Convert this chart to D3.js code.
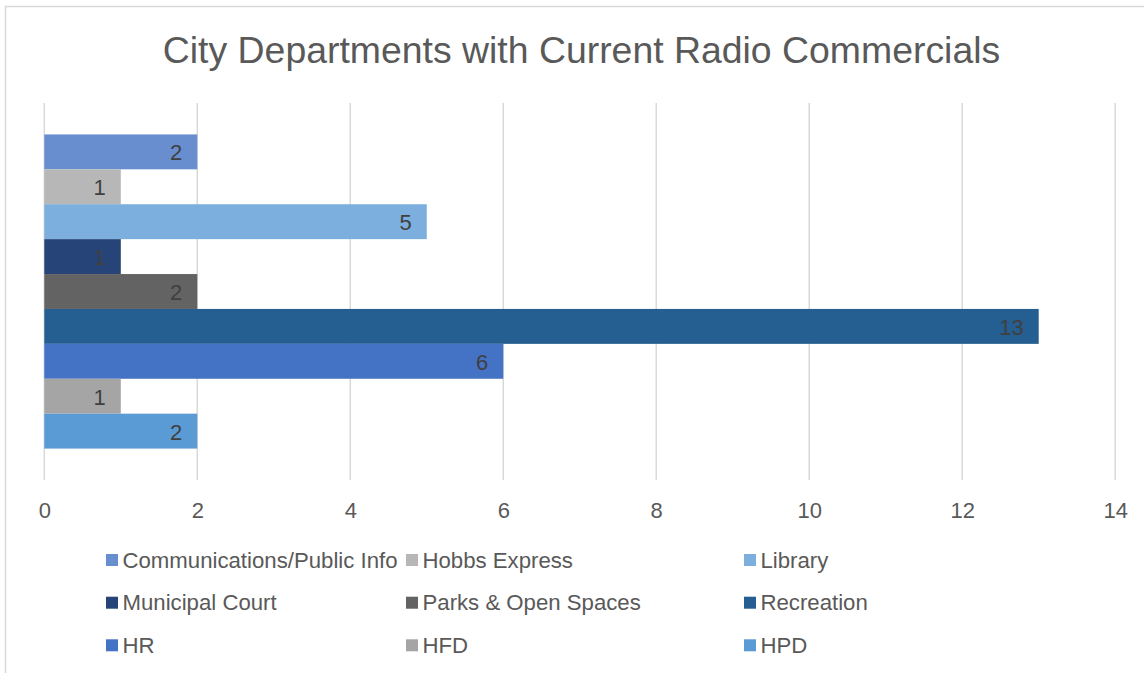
<!DOCTYPE html>
<html>
<head>
<meta charset="utf-8">
<script src="https://cdn.jsdelivr.net/npm/d3@7"></script>
<style>
  html, body { margin: 0; padding: 0; background: #ffffff; }
  svg { display: block; font-family: "Liberation Sans", Arial, sans-serif; }
</style>
</head>
<body>
<svg id="chart" width="1144" height="673"></svg>
<script>
// Departments (one series each), values and colours
const departments = [
  "Communications/Public Info", "Hobbs Express", "Library",
  "Municipal Court", "Parks & Open Spaces", "Recreation",
  "HR", "HFD", "HPD"
];
const commercials = [2, 1, 5, 1, 2, 13, 6, 1, 2];
const colors = [
  "#698ED0", "#B7B7B7", "#7CAFDD",
  "#264478", "#636363", "#255E91",
  "#4472C4", "#A5A5A5", "#5B9BD5"
];
const xTicks = [0, 2, 4, 6, 8, 10, 12, 14];
const title = "City Departments with Current Radio Commercials";

const data = departments.map((name, i) => ({ name, value: commercials[i], color: colors[i] }));

const svg = d3.select("#chart");
const W = 1144, H = 673;

// chart frame
svg.append("rect")
  .attr("x", 5.5).attr("y", 6.5)
  .attr("width", W + 20).attr("height", H + 20)
  .attr("fill", "#ffffff")
  .attr("stroke", "#d9d9d9").attr("stroke-width", 1.5);

// title
svg.append("text")
  .attr("x", 581.5).attr("y", 62.5)
  .attr("text-anchor", "middle")
  .attr("fill", "#595959")
  .style("font-size", "37.4px")
  .text(title);

// plot area
const plot = { left: 44.3, right: 1115.2, top: 103, bottom: 480 };

const x = d3.scaleLinear()
  .domain([0, 14])
  .range([plot.left, plot.right]);

// one category band holding all nine series bars
const gapRatio = 0.2;
const clusterH = (plot.bottom - plot.top) / (1 + gapRatio);
const clusterTop = plot.top + (plot.bottom - plot.top - clusterH) / 2;
const y = d3.scaleBand()
  .domain(departments)
  .range([clusterTop, clusterTop + clusterH])
  .padding(0);

// vertical gridlines
svg.append("g")
  .selectAll("line")
  .data(xTicks)
  .join("line")
  .attr("x1", d => x(d)).attr("x2", d => x(d))
  .attr("y1", plot.top).attr("y2", plot.bottom)
  .attr("stroke", "#d9d9d9")
  .attr("stroke-width", 1.5);

// x axis tick labels
const xAxis = d3.axisBottom(x).tickValues(xTicks).tickSize(0).tickPadding(0);
const axisG = svg.append("g")
  .attr("transform", `translate(0,${plot.bottom})`)
  .call(xAxis);
axisG.select(".domain").remove();
axisG.selectAll("text")
  .attr("y", 37.5).attr("dy", null)
  .attr("fill", "#595959")
  .style("font-size", "22px")
  .style("font-family", "'Liberation Sans', Arial, sans-serif");

// bars
svg.append("g")
  .selectAll("rect")
  .data(data)
  .join("rect")
  .attr("x", x(0))
  .attr("y", d => y(d.name))
  .attr("width", d => x(d.value) - x(0))
  .attr("height", y.bandwidth())
  .attr("fill", d => d.color);

// value labels at the inside end of each bar
svg.append("g")
  .selectAll("text")
  .data(data)
  .join("text")
  .attr("x", d => x(d.value) - 15)
  .attr("y", d => y(d.name) + y.bandwidth() / 2 + 8.5)
  .attr("text-anchor", "end")
  .attr("fill", "#404040")
  .style("font-size", "22px")
  .text(d => d.value);

// legend: three columns, three rows
const legendCols = [106, 406, 744];
const legendRows = [560, 602.7, 645.3];
const legend = svg.append("g")
  .selectAll("g")
  .data(data)
  .join("g")
  .attr("transform", (d, i) => `translate(${legendCols[i % 3]},${legendRows[Math.floor(i / 3)]})`);
legend.append("rect")
  .attr("x", 0).attr("y", -6)
  .attr("width", 12).attr("height", 12)
  .attr("fill", d => d.color);
legend.append("text")
  .attr("x", 16.5).attr("y", 7.5)
  .attr("fill", "#595959")
  .style("font-size", "22.2px")
  .text(d => d.name);
</script>
</body>
</html>
